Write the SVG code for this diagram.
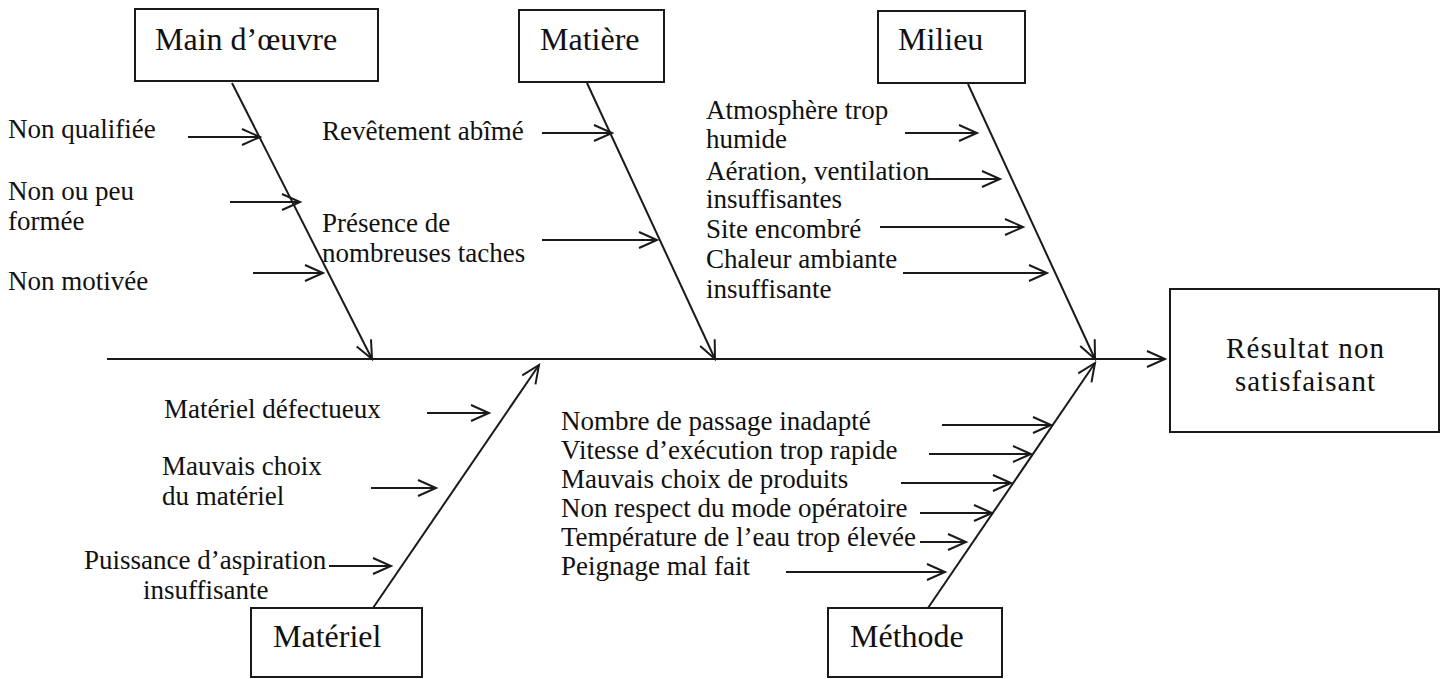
<svg xmlns="http://www.w3.org/2000/svg" width="1444" height="679" viewBox="0 0 1444 679">
<style>
.box{fill:#fff;stroke:#1a1a1a;stroke-width:2}
.bt{font-family:"Liberation Serif","Times New Roman",serif;font-size:32px;fill:#111}
.rt{font-family:"Liberation Serif","Times New Roman",serif;font-size:29px;fill:#111}
.lbl{font-family:"Liberation Serif","Times New Roman",serif;font-size:27px;fill:#111}
.ln{fill:none;stroke:#1a1a1a;stroke-width:2}
</style>
<defs>
<marker id="ah" markerUnits="userSpaceOnUse" viewBox="-20 -10 22 20" markerWidth="22" markerHeight="20" refX="0" refY="0" orient="auto" overflow="visible">
<path d="M-18,-8 L0,0 L-18,8" fill="none" stroke="#1a1a1a" stroke-width="2"/>
</marker>
</defs>
<rect width="1444" height="679" fill="#fff"/>

<g id="connectors">
<line class="ln" x1="107" y1="359" x2="1165" y2="359" marker-end="url(#ah)"/>
<line class="ln" x1="232" y1="83" x2="372" y2="359" marker-end="url(#ah)"/>
<line class="ln" x1="587" y1="83" x2="715" y2="359" marker-end="url(#ah)"/>
<line class="ln" x1="968" y1="84" x2="1095" y2="359" marker-end="url(#ah)"/>
<line class="ln" x1="373" y1="608" x2="539" y2="365" marker-end="url(#ah)"/>
<line class="ln" x1="928" y1="608" x2="1095" y2="363" marker-end="url(#ah)"/>
<line class="ln" x1="188" y1="137" x2="260" y2="137" marker-end="url(#ah)"/>
<line class="ln" x1="230" y1="202" x2="300" y2="202" marker-end="url(#ah)"/>
<line class="ln" x1="253" y1="273" x2="323" y2="273" marker-end="url(#ah)"/>
<line class="ln" x1="542" y1="133" x2="612" y2="133" marker-end="url(#ah)"/>
<line class="ln" x1="542" y1="240" x2="657" y2="240" marker-end="url(#ah)"/>
<line class="ln" x1="905" y1="133" x2="977" y2="133" marker-end="url(#ah)"/>
<line class="ln" x1="927" y1="179" x2="1000" y2="179" marker-end="url(#ah)"/>
<line class="ln" x1="880" y1="227" x2="1023" y2="227" marker-end="url(#ah)"/>
<line class="ln" x1="903" y1="273" x2="1047" y2="273" marker-end="url(#ah)"/>
<line class="ln" x1="427" y1="413" x2="489" y2="413" marker-end="url(#ah)"/>
<line class="ln" x1="371" y1="488" x2="436" y2="488" marker-end="url(#ah)"/>
<line class="ln" x1="329" y1="566" x2="391" y2="566" marker-end="url(#ah)"/>
<line class="ln" x1="942" y1="425" x2="1051" y2="425" marker-end="url(#ah)"/>
<line class="ln" x1="929" y1="454" x2="1031" y2="454" marker-end="url(#ah)"/>
<line class="ln" x1="901" y1="483" x2="1011" y2="483" marker-end="url(#ah)"/>
<line class="ln" x1="920" y1="513" x2="992" y2="513" marker-end="url(#ah)"/>
<line class="ln" x1="920" y1="542" x2="966" y2="542" marker-end="url(#ah)"/>
<line class="ln" x1="786" y1="572" x2="945" y2="572" marker-end="url(#ah)"/>
</g>

<g id="main-oeuvre">
<rect class="box" x="135" y="9" width="243" height="72"/>
<text class="bt" x="155" y="50">Main d’œuvre</text>
</g>
<g id="matiere">
<rect class="box" x="519" y="10" width="145" height="72"/>
<text class="bt" x="540" y="50">Matière</text>
</g>
<g id="milieu">
<rect class="box" x="878" y="11" width="147" height="72"/>
<text class="bt" x="898" y="50">Milieu</text>
</g>
<g id="materiel">
<rect class="box" x="251" y="608" width="171" height="69"/>
<text class="bt" x="273" y="647">Matériel</text>
</g>
<g id="methode">
<rect class="box" x="828" y="608" width="174" height="69"/>
<text class="bt" x="850" y="647">Méthode</text>
</g>
<g id="resultat">
<rect class="box" x="1170" y="289" width="269" height="143"/>
<text class="rt" x="1305" y="358" text-anchor="middle" textLength="158" lengthAdjust="spacing">Résultat non</text>
<text class="rt" x="1305" y="391" text-anchor="middle" textLength="140" lengthAdjust="spacing">satisfaisant</text>
</g>

<g id="cause-non-qualifiee"><text class="lbl" x="8" y="138">Non qualifiée</text></g>
<g id="cause-non-formee"><text class="lbl" x="8" y="200">Non ou peu</text><text class="lbl" x="8" y="230">formée</text></g>
<g id="cause-non-motivee"><text class="lbl" x="8" y="290">Non motivée</text></g>

<g id="cause-revetement"><text class="lbl" x="322" y="140">Revêtement abîmé</text></g>
<g id="cause-taches"><text class="lbl" x="322" y="232">Présence de</text><text class="lbl" x="322" y="262">nombreuses taches</text></g>

<g id="cause-atmosphere"><text class="lbl" x="706" y="119">Atmosphère trop</text><text class="lbl" x="706" y="148">humide</text></g>
<g id="cause-aeration"><text class="lbl" x="706" y="180">Aération, ventilation</text><text class="lbl" x="706" y="208">insuffisantes</text></g>
<g id="cause-site"><text class="lbl" x="706" y="238">Site encombré</text></g>
<g id="cause-chaleur"><text class="lbl" x="706" y="268">Chaleur ambiante</text><text class="lbl" x="706" y="298">insuffisante</text></g>

<g id="cause-defectueux"><text class="lbl" x="164" y="418">Matériel défectueux</text></g>
<g id="cause-choix-materiel"><text class="lbl" x="162" y="475">Mauvais choix</text><text class="lbl" x="162" y="505">du matériel</text></g>
<g id="cause-aspiration"><text class="lbl" x="84" y="569">Puissance d’aspiration</text><text class="lbl" x="143" y="599">insuffisante</text></g>

<g id="cause-passage"><text class="lbl" x="561" y="430">Nombre de passage inadapté</text></g>
<g id="cause-vitesse"><text class="lbl" x="561" y="459">Vitesse d’exécution trop rapide</text></g>
<g id="cause-produits"><text class="lbl" x="561" y="488">Mauvais choix de produits</text></g>
<g id="cause-mode"><text class="lbl" x="561" y="517">Non respect du mode opératoire</text></g>
<g id="cause-temperature"><text class="lbl" x="561" y="546">Température de l’eau trop élevée</text></g>
<g id="cause-peignage"><text class="lbl" x="561" y="575">Peignage mal fait</text></g>
</svg>
